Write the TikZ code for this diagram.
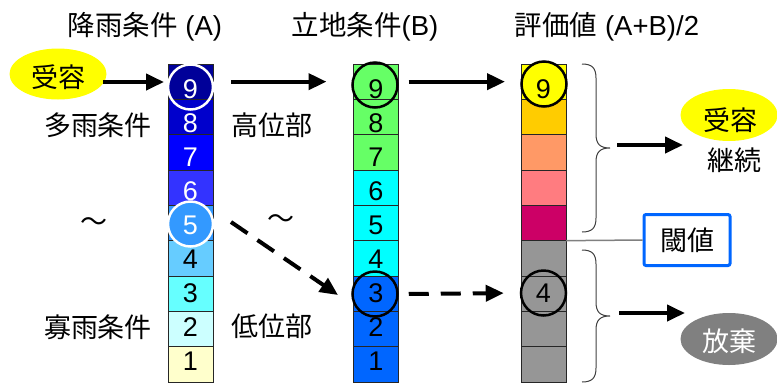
\documentclass[tikz,border=0pt]{standalone}
\usepackage{fontspec}
\setmainfont{Liberation Sans}
\newfontfamily\cjk{Noto Sans CJK JP}
\usetikzlibrary{arrows.meta,shapes.geometric}
\definecolor{aNine}{HTML}{000099}
\definecolor{aEight}{HTML}{0000CC}
\definecolor{aSeven}{HTML}{0000FF}
\definecolor{aSix}{HTML}{3333FF}
\definecolor{aFive}{HTML}{3399FF}
\definecolor{aFour}{HTML}{66CCFF}
\definecolor{aThree}{HTML}{66FFFF}
\definecolor{aTwo}{HTML}{CCFFFF}
\definecolor{aOne}{HTML}{FFFFCC}
\definecolor{bGreen}{HTML}{66FF66}
\definecolor{bCyan}{HTML}{00FFFF}
\definecolor{bBlue}{HTML}{0066FF}
\definecolor{cNine}{HTML}{FFFF00}
\definecolor{cEight}{HTML}{FFCC00}
\definecolor{cSeven}{HTML}{FF9966}
\definecolor{cSix}{HTML}{FF7C80}
\definecolor{cFive}{HTML}{CC0066}
\definecolor{cGray}{HTML}{969696}
\definecolor{dGray}{HTML}{808080}
\definecolor{thBlue}{HTML}{0066FF}
\tikzset{
  cell/.style={draw=black!85, line width=0.8pt, minimum width=45pt, minimum height=35.33pt, inner sep=0pt, outer sep=0pt},
  num/.style={font=\fontsize{27}{27}\selectfont, inner sep=0pt},
  lbl/.style={font=\fontsize{27}{30}\selectfont\cjk, inner sep=0pt},
  ttl/.style={font=\fontsize{27.5}{30}\selectfont, inner sep=0pt},
  ring/.style={circle, minimum size=45pt, line width=2.5pt, inner sep=0pt},
  arr/.style={line width=4pt, -{Triangle[length=18pt,width=16pt]}},
  darr/.style={line width=4pt, dash pattern=on 20pt off 12pt, -{Triangle[length=18pt,width=16pt]}},
  brc/.style={draw=black!75, line width=1pt}
}
\begin{document}
\begin{tikzpicture}[x=1pt,y=-1pt]
\useasboundingbox (0,0) rectangle (777,384);
% titles
\node[ttl] (tA) at (145,27) {{\cjk 降雨条件} (A)};
\node[ttl] (tB) at (365,27) {{\cjk 立地条件}(B)};
\node[ttl] (tC) at (607,27) {{\cjk 評価値} (A+B)/2};
% column cells
\foreach \k/\ca/\cb/\cc in {9/aNine/bGreen/cNine,8/aEight/bGreen/cEight,7/aSeven/bGreen/cSeven,6/aSix/bCyan/cSix,5/aFive/bCyan/cFive,4/aFour/bCyan/cGray,3/aThree/bBlue/cGray,2/aTwo/bBlue/cGray,1/aOne/bBlue/cGray}{
  \pgfmathsetmacro{\yy}{64+(9-\k+0.5)*35.333}
  \node[cell, fill=\ca] (a\k) at (190.5,\yy) {};
  \node[cell, fill=\cb] (b\k) at (376,\yy) {};
  \node[cell, fill=\cc] (c\k) at (543.5,\yy) {};
}
% rings
\node[ring, draw=white] (ra9) at (190.5,87) {};
\node[ring, draw=white, fill=aFive] (ra5) at (190.5,224) {};
\node[ring, draw=black] (rb9) at (375,85) {};
\node[ring, draw=black] (rb3) at (375,294) {};
\node[ring, draw=black, fill=cNine] (rc9) at (544,84) {};
\node[ring, draw=black] (rc4) at (543.5,293) {};
% numbers
\foreach \k/\tc in {9/white,8/white,7/white,6/white,5/white,4/black,3/black,2/black,1/black}{
  \pgfmathsetmacro{\ny}{361-(\k-1)*34}
  \node[num, text=\tc] (na\k) at (190.5,\ny) {\k};
  \node[num] (nb\k) at (376,\ny) {\k};
}
\node[num] (nc9) at (543.5,89) {9};
\node[num] (nc4) at (543.5,293) {4};
% side labels
\node[lbl] (wet) at (98,125) {多雨条件};
\node[lbl] (dry) at (98,327) {寡雨条件};
\node[lbl] (high) at (272,125) {高位部};
\node[lbl] (low) at (272,326) {低位部};
\node[lbl] (t1) at (94,225) {～};
\node[lbl] (t2) at (281,222) {～};
% left accept ellipse
\node[ellipse, fill=cNine, minimum width=97pt, minimum height=51pt, inner sep=0pt] (okL) at (58,74) {};
\node[lbl] (okLt) at (58,77) {受容};
% arrows
\coordinate (s0) at (103,82);
\coordinate (e0) at (164,82);
\draw[arr] (s0) -- (e0);
\draw[arr, shorten <=18pt, shorten >=27pt] (a9.east) -- (b9.west);
\draw[arr, shorten <=10pt, shorten >=16pt] (b9.east) -- (c9.west);
\coordinate (d1) at (231,222);
\coordinate (d2) at (338,295);
\draw[darr] (d1) -- (d2);
\draw[darr, shorten <=10pt, shorten >=16pt] (rb3.east) -- (rc4.west);
% braces
\draw[brc] (582,64) .. controls (592,64) and (596,68) .. (596,78) -- (596,134) .. controls (596,144) and (600,148) .. (610,148) .. controls (600,148) and (596,152) .. (596,162) -- (596,218) .. controls (596,228) and (592,232) .. (582,232);
\draw[brc] (582,250) .. controls (592,250) and (596,254) .. (596,264) -- (596,302) .. controls (596,312) and (600,316) .. (610,316) .. controls (600,316) and (596,320) .. (596,330) -- (596,368) .. controls (596,378) and (592,382) .. (582,382);
\coordinate (s1) at (617,145);
\coordinate (e1) at (683,145);
\draw[arr] (s1) -- (e1);
\coordinate (s2) at (619,313);
\coordinate (e2) at (685,313);
\draw[arr] (s2) -- (e2);
% right accept
\node[ellipse, fill=cNine, minimum width=97pt, minimum height=52pt, inner sep=0pt] (okR) at (729,115) {};
\node[lbl] (okRt) at (730,120) {受容};
\node[lbl] (cont) at (734,160) {継続};
% threshold
\node[draw=thBlue, line width=3pt, rounded corners=2pt, minimum width=86pt, minimum height=51pt, inner sep=0pt, lbl] (th) at (687,240) {閾値};
\draw[dGray, line width=1.5pt] (c5.south east) -- (th.west);
% discard
\node[ellipse, fill=dGray, minimum width=97pt, minimum height=52pt, inner sep=0pt] (ng) at (729,339) {};
\node[lbl, text=white] (ngt) at (729,341) {放棄};
\end{tikzpicture}
\end{document}
